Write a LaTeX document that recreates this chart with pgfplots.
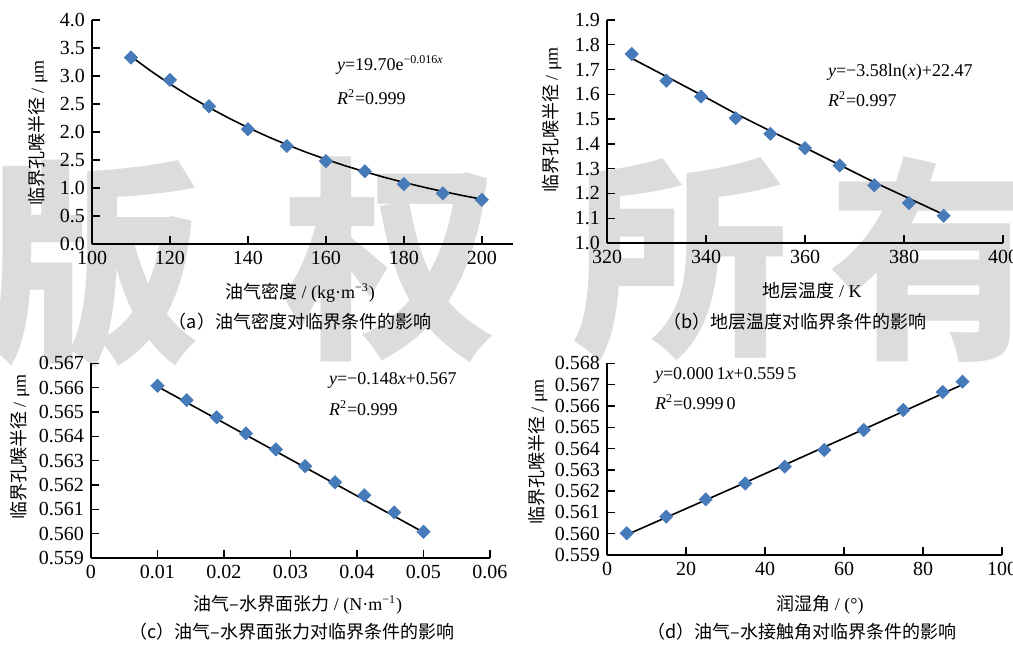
\documentclass[border=0pt]{standalone}
\usepackage{pgfplots}
\pgfplotsset{compat=1.18}
\usepackage{fontspec}
\setmainfont{Liberation Serif}
\newfontfamily\cjk{Noto Sans CJK SC}
\definecolor{mblue}{RGB}{70,122,185}
\definecolor{wm}{RGB}{220,220,220}
\pgfplotsset{panel/.style={scale only axis, axis lines=left, axis line style={-,line width=0.7pt},
  tick align=inside, major tick length=4pt, tick style={line width=0.7pt,black},
  ticklabel style={font=\fontsize{10}{11}\selectfont},
  /pgf/number format/assume math mode=true, clip=false, anchor=south west, scaled ticks=false}}
\pgfplotsset{pts/.style={only marks, mark=square*, mark size=2.3pt, mark options={rotate=45,fill=mblue,draw=mblue}},
  fit/.style={no marks, black, line width=0.8pt}}
\newcommand{\lab}{\fontsize{9}{10}\selectfont}
\begin{document}
\begin{tikzpicture}
\useasboundingbox (0,0) rectangle (506.5pt,-324pt);
% watermark
\begin{scope}[every node/.style={text=wm, font=\cjk\fontsize{108}{108}\selectfont\bfseries}]
\node at (47pt,-132pt) {版};
\node at (195pt,-130pt) {权};
\node at (340pt,-130pt) {所};
\node at (468pt,-130pt) {有};
\end{scope}
% (a)
\begin{axis}[panel, at={(46pt,-122pt)}, width=210.5pt, height=112pt,
  xmin=100, xmax=208, ymin=0, ymax=4,
  xtick={100,120,140,160,180,200},
  ytick={0,0.5,1,1.5,2,2.5,3,3.5,4},
  yticklabels={0.0,0.5,1.0,2.5,2.0,2.5,3.0,3.5,4.0}]
\addplot[fit] coordinates {(110,3.350)(115,3.094)(120,2.857)(125,2.639)(130,2.437)(135,2.251)(140,2.079)(145,1.920)(150,1.773)(155,1.637)(160,1.512)(165,1.396)(170,1.290)(175,1.191)(180,1.100)(185,1.016)(190,0.938)(195,0.866)(200,0.800)};
\addplot[pts] coordinates {(110,3.33)(120,2.93)(130,2.46)(140,2.05)(150,1.75)(160,1.48)(170,1.30)(180,1.07)(190,0.905)(200,0.79)};
\end{axis}
% (b)
\begin{axis}[panel, at={(303.5pt,-121.5pt)}, width=198pt, height=111.5pt,
  xmin=320, xmax=400, ymin=1.0, ymax=1.9,
  xtick={320,340,360,380,400},
  ytick={1.0,1.1,1.2,1.3,1.4,1.5,1.6,1.7,1.8,1.9},
  yticklabels={1.0,1.1,1.2,1.3,1.4,1.5,1.6,1.7,1.8,1.9}]
\addplot[fit] coordinates {(325,1.745)(332,1.672)(339,1.598)(346,1.522)(353,1.452)(360,1.385)(367,1.315)(374,1.245)(381,1.180)(388,1.115)};
\addplot[pts] coordinates {(325,1.763)(332,1.655)(339,1.591)(346,1.504)(353,1.441)(360,1.383)(367,1.313)(374,1.233)(381,1.161)(388,1.110)};
\end{axis}
% (c)
\begin{axis}[panel, at={(45.5pt,-278.9pt)}, width=199.5pt, height=97.2pt,
  xmin=0, xmax=0.06, ymin=0.559, ymax=0.567,
  xtick={0,0.01,0.02,0.03,0.04,0.05,0.06},
  xticklabels={0,0.01,0.02,0.03,0.04,0.05,0.06},
  ytick={0.559,0.560,0.561,0.562,0.563,0.564,0.565,0.566,0.567},
  yticklabels={0.559,0.560,0.561,0.562,0.563,0.564,0.565,0.566,0.567}]
\addplot[fit] coordinates {(0.0100,0.56605)(0.0500,0.56005)};
\addplot[pts] coordinates {(0.0100,0.56608)(0.0144,0.56549)(0.0189,0.56478)(0.0233,0.56412)(0.0278,0.56346)(0.0322,0.56277)(0.0367,0.56211)(0.0411,0.56157)(0.0456,0.56087)(0.0500,0.56007)};
\end{axis}
% (d)
\begin{axis}[panel, at={(303.5pt,-277.5pt)}, width=197.5pt, height=95.85pt,
  xmin=0, xmax=100, ymin=0.559, ymax=0.568,
  xtick={0,20,40,60,80,100},
  ytick={0.559,0.560,0.561,0.562,0.563,0.564,0.565,0.566,0.567,0.568},
  yticklabels={0.559,0.560,0.561,0.562,0.563,0.564,0.565,0.566,0.567,0.568}]
\addplot[fit] coordinates {(5,0.55995)(35,0.56240)(65,0.56490)(90,0.56700)};
\addplot[pts] coordinates {(5,0.56002)(15,0.56080)(25,0.56161)(35,0.56236)(45,0.56315)(55,0.56393)(65,0.56487)(75,0.56581)(85,0.56665)(90,0.56714)};
\end{axis}
% labels (a)
\node[font=\lab, rotate=90] at (19pt,-66.5pt) {{\cjk 临界孔喉半径} / μm};
\node[font=\lab] at (150pt,-146.5pt) {{\cjk 油气密度} / (kg·m\textsuperscript{−3})};
\node[font=\lab] at (150pt,-161pt) {{\cjk （a）油气密度对临界条件的影响}};
\node[font=\lab, anchor=west] at (165pt,-32.5pt) {\textit{y}=19.70e\textsuperscript{−0.016\textit{x}}};
\node[font=\lab, anchor=west] at (165pt,-48.5pt) {\textit{R}\textsuperscript{2}=0.999};
% labels (b)
\node[font=\lab, rotate=90] at (276pt,-60pt) {{\cjk 临界孔喉半径} / μm};
\node[font=\lab] at (406pt,-145.5pt) {{\cjk 地层温度} / K};
\node[font=\lab] at (397.5pt,-161pt) {{\cjk （b）地层温度对临界条件的影响}};
\node[font=\lab, anchor=west] at (410.5pt,-36pt) {\textit{y}=−3.58ln(\textit{x})+22.47};
\node[font=\lab, anchor=west] at (410.5pt,-49.5pt) {\textit{R}\textsuperscript{2}=0.997};
% labels (c)
\node[font=\lab, rotate=90] at (10pt,-223.5pt) {{\cjk 临界孔喉半径} / μm};
\node[font=\lab] at (149pt,-302.5pt) {{\cjk 油气–水界面张力} / (N·m\textsuperscript{−1})};
\node[font=\lab] at (146pt,-316pt) {{\cjk （c）油气–水界面张力对临界条件的影响}};
\node[font=\lab, anchor=west] at (161pt,-190pt) {\textit{y}=−0.148\textit{x}+0.567};
\node[font=\lab, anchor=west] at (161pt,-204pt) {\textit{R}\textsuperscript{2}=0.999};
% labels (d)
\node[font=\lab, rotate=90] at (269pt,-226pt) {{\cjk 临界孔喉半径} / μm};
\node[font=\lab] at (410pt,-302.5pt) {{\cjk 润湿角} / (°)};
\node[font=\lab] at (401pt,-316pt) {{\cjk （d）油气–水接触角对临界条件的影响}};
\node[font=\lab, anchor=west] at (324pt,-187.5pt) {\textit{y}=0.000\,1\textit{x}+0.559\,5};
\node[font=\lab, anchor=west] at (324pt,-201pt) {\textit{R}\textsuperscript{2}=0.999\,0};
\end{tikzpicture}
\end{document}
